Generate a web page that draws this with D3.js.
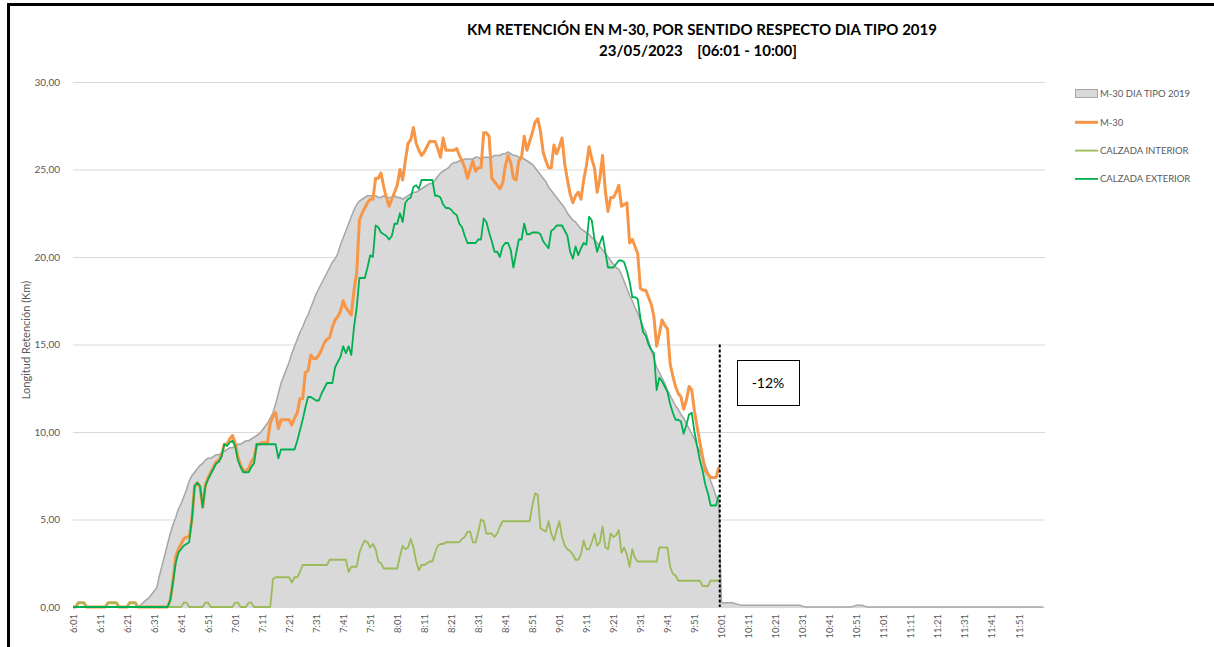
<!DOCTYPE html>
<html>
<head>
<meta charset="utf-8">
<script src="https://cdn.jsdelivr.net/npm/d3@7"></script>
<style>
  body { margin: 0; background: #fff; }
  svg { display: block; }
  text { font-family: Lato, "Liberation Sans", sans-serif; }
</style>
</head>
<body>
<div id="chart"></div>
<script>
const width = 1214
const height = 647

// minutes from 6:01, one value per minute
const tickLabels = ["6:01","6:11","6:21","6:31","6:41","6:51","7:01","7:11","7:21","7:31","7:41","7:51",
  "8:01","8:11","8:21","8:31","8:41","8:51","9:01","9:11","9:21","9:31","9:41","9:51",
  "10:01","10:11","10:21","10:31","10:41","10:51","11:01","11:11","11:21","11:31","11:41","11:51"]

const yTicks = [0, 5, 10, 15, 20, 25, 30]

// M-30 DIA TIPO 2019 (6:01 - 12:00)
const tipo2019 = [
  0,0,0,0,0,0,0,0,0,0,
  0,0,0,0,0,0,0,0,0,0,
  0,0,0,0,0,0.1,0.25,0.4,0.5,0.7,
  0.9,1.1,1.8,2.4,3.0,3.6,4.2,4.7,5.1,5.6,
  5.9,6.3,6.7,7.2,7.5,7.7,7.9,8.1,8.2,8.4,
  8.5,8.5,8.6,8.7,8.7,8.8,8.9,9.0,9.1,9.1,
  9.2,9.3,9.3,9.4,9.5,9.5,9.6,9.7,9.8,9.9,
  10.1,10.3,10.5,10.8,11.1,11.6,12.2,12.8,13.2,13.6,
  14.0,14.5,14.9,15.3,15.7,16.0,16.4,16.7,17.1,17.5,
  17.9,18.2,18.5,18.8,19.1,19.4,19.7,19.9,20.2,20.7,
  21.1,21.5,21.9,22.3,22.7,23.0,23.2,23.3,23.4,23.5,
  23.5,23.5,23.5,23.4,23.4,23.5,23.4,23.4,23.4,23.5,
  23.4,23.4,23.3,23.4,23.5,23.6,23.7,23.7,23.8,23.9,
  24.0,24.1,24.2,24.2,24.4,24.6,24.8,24.9,25.0,25.1,
  25.3,25.4,25.4,25.5,25.5,25.6,25.6,25.6,25.6,25.7,
  25.7,25.6,25.7,25.7,25.7,25.7,25.8,25.8,25.8,25.9,
  25.9,26.0,25.9,25.8,25.8,25.7,25.7,25.6,25.5,25.4,
  25.3,25.1,24.9,24.7,24.5,24.3,24.0,23.8,23.6,23.4,
  23.2,23.0,22.8,22.5,22.3,22.1,22.0,21.8,21.6,21.5,
  21.4,21.3,21.1,21.0,20.8,20.6,20.4,20.2,20.0,19.8,
  19.6,19.4,19.3,19.0,18.6,18.2,17.8,17.5,17.1,16.8,
  16.4,16.0,15.7,15.2,14.7,14.2,13.7,13.4,13.1,12.8,
  12.4,12.1,11.8,11.5,11.3,11.0,10.8,10.5,10.2,9.9,
  9.6,9.2,8.9,8.5,8.1,7.7,7.2,6.8,6.3,6.0,
  0.25,0.25,0.25,0.25,0.25,0.2,0.15,0.12,0.1,0.1,
  0.1,0.1,0.1,0.1,0.1,0.1,0.1,0.1,0.1,0.1,
  0.1,0.1,0.1,0.1,0.1,0.1,0.1,0.1,0.1,0.1,
  0.05,0,0,0,0,0,0,0,0,0,
  0,0,0,0,0,0,0,0,0,0.05,
  0.1,0.1,0.1,0.05,0,0,0,0,0,0,
  0,0,0,0,0,0,0,0,0,0,
  0,0,0,0,0,0,0,0,0,0,
  0,0,0,0,0,0,0,0,0,0,
  0,0,0,0,0,0,0,0,0,0,
  0,0,0,0,0,0,0,0,0,0,
  0,0,0,0,0,0,0,0,0,0
]

// M-30 23/05/2023 (6:01 - 10:00)
const m30 = [
  0,0,0.25,0.25,0.25,0,0,0,0,0,
  0,0,0,0.25,0.25,0.25,0.25,0,0,0,
  0,0.25,0.25,0.25,0,0,0,0,0,0,
  0,0,0,0,0,0,0.4,1.5,2.9,3.3,
  3.6,3.9,4.0,4.0,5.0,6.9,7.1,6.9,5.7,7.0,
  7.4,7.7,8.0,8.3,8.4,8.7,9.3,9.3,9.6,9.8,
  9.4,8.6,8.1,7.8,7.8,7.9,8.3,8.5,9.3,9.3,
  9.4,9.4,9.4,10.5,10.9,11.1,10.2,10.7,10.7,10.7,
  10.7,10.4,10.8,11.1,11.9,11.9,13.4,13.5,14.4,14.2,
  14.2,14.4,14.7,15.1,15.3,15.4,16.0,16.4,16.6,16.9,
  17.5,17.1,16.9,16.7,18.1,19.1,22.1,22.5,22.8,23.1,
  23.3,23.3,24.5,24.5,24.8,24.0,23.4,22.9,23.3,23.7,
  24.1,25.0,24.4,25.5,26.5,26.7,27.4,26.5,26.1,25.8,
  26.0,26.3,26.6,26.6,26.6,26.2,25.7,26.8,26.1,26.1,
  26.1,26.1,26.2,25.8,25.5,25.1,24.5,25.0,25.5,24.9,
  25.1,25.1,27.1,27.1,26.9,24.5,24.3,24.1,23.9,24.2,
  25.2,25.8,25.4,24.5,24.4,25.5,25.7,26.9,26.1,26.6,
  27.1,27.7,27.9,27.2,26.0,25.5,25.1,25.1,26.4,25.9,
  26.3,26.8,25.3,24.4,23.6,23.1,23.5,23.7,23.3,24.4,
  25.2,26.3,25.6,25.1,23.7,24.5,25.8,23.8,22.6,23.4,
  23.4,23.7,24.1,22.9,23.0,23.1,20.8,21.0,20.6,20.2,
  18.2,18.1,18.1,17.7,17.3,16.6,14.9,15.6,16.4,16.1,
  15.9,13.9,13.2,12.6,12.2,12.0,11.3,11.8,12.6,12.4,
  11.2,10.3,9.4,8.6,7.8,7.6,7.4,7.4,7.4,8.0
]

// CALZADA INTERIOR
const interior = [
  0,0,0.25,0.25,0.25,0,0,0,0,0,
  0,0,0,0.25,0.25,0.25,0.25,0,0,0,
  0,0.25,0.25,0.25,0,0,0,0,0,0,
  0,0,0,0,0,0,0,0,0,0,
  0,0.25,0.25,0,0,0,0,0,0,0.25,
  0.25,0,0,0,0,0,0,0,0,0,
  0.25,0.25,0,0,0,0.25,0.25,0,0,0,
  0,0,0,0,1.6,1.7,1.7,1.7,1.7,1.7,
  1.7,1.4,1.7,1.7,2.0,2.4,2.4,2.4,2.4,2.4,
  2.4,2.4,2.4,2.4,2.4,2.7,2.7,2.7,2.7,2.7,
  2.7,2.7,2.0,2.3,2.3,2.3,3.1,3.5,3.8,3.7,
  3.4,3.6,3.3,2.6,2.5,2.2,2.2,2.2,2.2,2.2,
  2.2,2.9,3.5,3.3,3.4,3.9,3.4,2.6,2.1,2.4,
  2.4,2.5,2.6,2.6,3.1,3.5,3.6,3.6,3.7,3.7,
  3.7,3.7,3.7,3.7,3.9,4.0,4.3,4.3,3.7,3.7,
  4.3,5.0,4.9,4.2,4.2,4.2,4.0,4.2,4.6,4.9,
  4.9,4.9,4.9,4.9,4.9,4.9,4.9,4.9,4.9,4.9,
  5.8,6.5,6.4,4.5,4.4,4.3,4.9,4.2,3.8,4.4,
  4.9,4.0,3.5,3.3,3.2,3.0,2.7,2.7,3.0,3.8,
  3.3,3.3,3.7,4.2,3.5,3.7,4.6,3.4,3.3,4.2,
  4.0,4.1,4.4,3.1,3.4,3.0,2.3,3.3,2.8,2.6,
  2.6,2.6,2.6,2.6,2.6,2.6,2.6,3.4,3.4,3.4,
  3.4,2.3,1.9,1.8,1.5,1.5,1.5,1.5,1.5,1.5,
  1.5,1.5,1.5,1.2,1.2,1.2,1.5,1.5,1.5,1.5
]

// CALZADA EXTERIOR
const exterior = [
  0,0,0,0,0,0,0,0,0,0,
  0,0,0,0,0,0,0,0,0,0,
  0,0,0,0,0,0,0,0,0,0,
  0,0,0,0,0,0,0.4,1.4,2.5,3.1,
  3.3,3.5,3.6,3.7,5.0,6.9,7.1,6.9,5.7,6.9,
  7.3,7.6,7.9,8.2,8.3,8.6,9.3,9.2,9.4,9.5,
  9.2,8.4,8.0,7.7,7.7,7.7,8.0,8.2,9.3,9.3,
  9.3,9.3,9.3,9.3,9.3,9.3,8.5,9.0,9.0,9.0,
  9.0,9.0,9.0,9.5,10.1,10.7,11.4,12.0,12.0,11.9,
  11.8,11.8,12.2,12.5,12.8,12.8,12.8,13.7,14.0,14.3,
  14.9,14.5,14.9,14.4,16.0,17.1,18.8,18.8,18.8,19.4,
  20.1,20.0,21.8,21.7,21.4,21.3,21.2,21.0,21.2,21.9,
  21.9,22.5,22.0,23.1,23.3,23.4,24.0,24.1,23.9,24.4,
  24.4,24.4,24.4,24.4,23.5,23.5,23.4,23.0,22.8,22.8,
  22.7,22.5,22.4,21.9,21.7,21.2,20.8,20.8,20.8,20.8,
  21.0,21.0,22.2,22.0,21.4,20.9,20.3,20.3,20.0,20.6,
  20.8,20.8,20.4,19.4,20.2,21.0,21.0,21.9,21.3,21.3,
  21.4,21.4,21.4,21.3,20.9,20.7,20.5,21.5,21.6,21.8,
  21.8,21.8,21.5,21.2,20.3,19.9,20.6,20.1,20.5,20.8,
  20.7,22.3,22.1,21.0,20.3,20.8,21.2,20.3,19.4,19.4,
  19.4,19.6,19.8,19.8,19.7,19.2,18.6,17.7,17.7,17.6,
  16.5,15.7,15.5,15.0,14.7,14.5,12.4,13.1,12.9,12.6,
  12.3,11.6,11.1,10.7,10.7,10.6,9.9,10.4,11.0,11.1,
  10.0,9.2,8.4,7.8,7.0,6.5,5.8,5.8,5.8,6.4
]

const legendItems = ["M-30 DIA TIPO 2019", "M-30", "CALZADA INTERIOR", "CALZADA EXTERIOR"]
const cutIndex = 239      // 10:00
const changeLabel = "-12%"

const svg = d3.select("#chart")
  .append("svg")
  .attr("width", width)
  .attr("height", height)
  .style("background-color", "#fff")

// frame
svg.append("path")
  .attr("d", "M8.5,647 V4.5 H1214")
  .attr("fill", "none")
  .attr("stroke", "#000")
  .attr("stroke-width", 3)

const x = d3.scaleLinear().domain([0, 359]).range([73, 1043])
const y = d3.scaleLinear().domain([0, 30]).range([607, 82])

// gridlines
svg.append("g")
  .selectAll("line")
  .data(yTicks)
  .enter()
  .append("line")
  .attr("x1", 73)
  .attr("x2", 1045)
  .attr("y1", d => y(d) + 0.5)
  .attr("y2", d => y(d) + 0.5)
  .attr("stroke", "#d9d9d9")
  .attr("stroke-width", 1)

// y axis
const yAxis = svg.append("g")
  .attr("transform", "translate(73,0)")
  .call(d3.axisLeft(y).tickValues(yTicks).tickSize(0).tickPadding(13)
    .tickFormat(d => d3.format(".2f")(d).replace(".", ",")))
yAxis.select(".domain").remove()
yAxis.selectAll("text")
  .attr("fill", "#595959")
  .style("font-size", "10px")

// x axis
const xAxis = svg.append("g")
  .attr("transform", "translate(0,607)")
  .call(d3.axisBottom(x).tickValues(tickLabels.map((d, i) => i * 10)).tickSize(0)
    .tickFormat((d, i) => tickLabels[i]))
xAxis.select(".domain").remove()
xAxis.selectAll("text")
  .attr("transform", "rotate(-90)")
  .attr("text-anchor", "end")
  .attr("x", -7)
  .attr("y", 0)
  .attr("dy", "0.35em")
  .attr("fill", "#595959")
  .style("font-size", "9.5px")

// axis title
svg.append("text")
  .attr("transform", "translate(30,340) rotate(-90)")
  .attr("text-anchor", "middle")
  .attr("fill", "#595959")
  .style("font-size", "11px")
  .text("Longitud Retención (Km)")

// title
const title = svg.append("text")
  .attr("text-anchor", "middle")
  .attr("fill", "#000")
  .style("font-size", "15px")
  .style("font-weight", "bold")
title.append("tspan").attr("x", 702).attr("y", 35)
  .text("KM RETENCIÓN EN M-30, POR SENTIDO RESPECTO DIA TIPO 2019")
title.append("tspan").attr("x", 698).attr("y", 56)
  .attr("xml:space", "preserve")
  .style("white-space", "pre")
  .text("23/05/2023    [06:01 - 10:00]")

// tipo 2019 area
const area = d3.area()
  .x((d, i) => x(i))
  .y0(y(0))
  .y1(d => y(d))
svg.append("path")
  .datum(tipo2019)
  .attr("d", area)
  .attr("fill", "#d9d9d9")

const line = d3.line()
  .x((d, i) => x(i))
  .y(d => y(d))

svg.append("path")
  .datum(tipo2019)
  .attr("d", line)
  .attr("fill", "none")
  .attr("stroke", "#a6a6a6")
  .attr("stroke-width", 1.5)

const series = [
  { data: m30, color: "#f79646", w: 3 },
  { data: interior, color: "#9bbb59", w: 1.8 },
  { data: exterior, color: "#00b050", w: 1.8 }
]

series.forEach(s => {
  svg.append("path")
    .datum(s.data)
    .attr("d", line)
    .attr("fill", "none")
    .attr("stroke", s.color)
    .attr("stroke-width", s.w)
    .attr("stroke-linejoin", "round")
})

// cut line at 10:00
svg.append("line")
  .attr("x1", x(cutIndex) + 1)
  .attr("x2", x(cutIndex) + 1)
  .attr("y1", y(15))
  .attr("y2", y(0))
  .attr("stroke", "#000")
  .attr("stroke-width", 2)
  .attr("stroke-dasharray", "3,2")

// annotation box
svg.append("rect")
  .attr("x", 737.5)
  .attr("y", 360.5)
  .attr("width", 62)
  .attr("height", 45)
  .attr("fill", "#fff")
  .attr("stroke", "#000")
  .attr("stroke-width", 1)
svg.append("text")
  .attr("x", 768)
  .attr("y", 388)
  .attr("text-anchor", "middle")
  .style("font-size", "14px")
  .attr("fill", "#000")
  .text(changeLabel)

// legend
const legend = svg.append("g")
legendItems.forEach((name, i) => {
  const ly = 94 + i * 28.3
  if (i === 0) {
    legend.append("rect")
      .attr("x", 1075.5).attr("y", ly - 4.5)
      .attr("width", 22).attr("height", 8)
      .attr("fill", "#d9d9d9").attr("stroke", "#a6a6a6")
  } else {
    legend.append("line")
      .attr("x1", 1075).attr("x2", 1098)
      .attr("y1", ly).attr("y2", ly)
      .attr("stroke", series[i - 1].color)
      .attr("stroke-width", series[i - 1].w)
  }
  legend.append("text")
    .attr("x", 1100).attr("y", ly)
    .attr("dy", "0.35em")
    .attr("fill", "#595959")
    .style("font-size", "9.5px")
    .text(name)
})
</script>
</body>
</html>
